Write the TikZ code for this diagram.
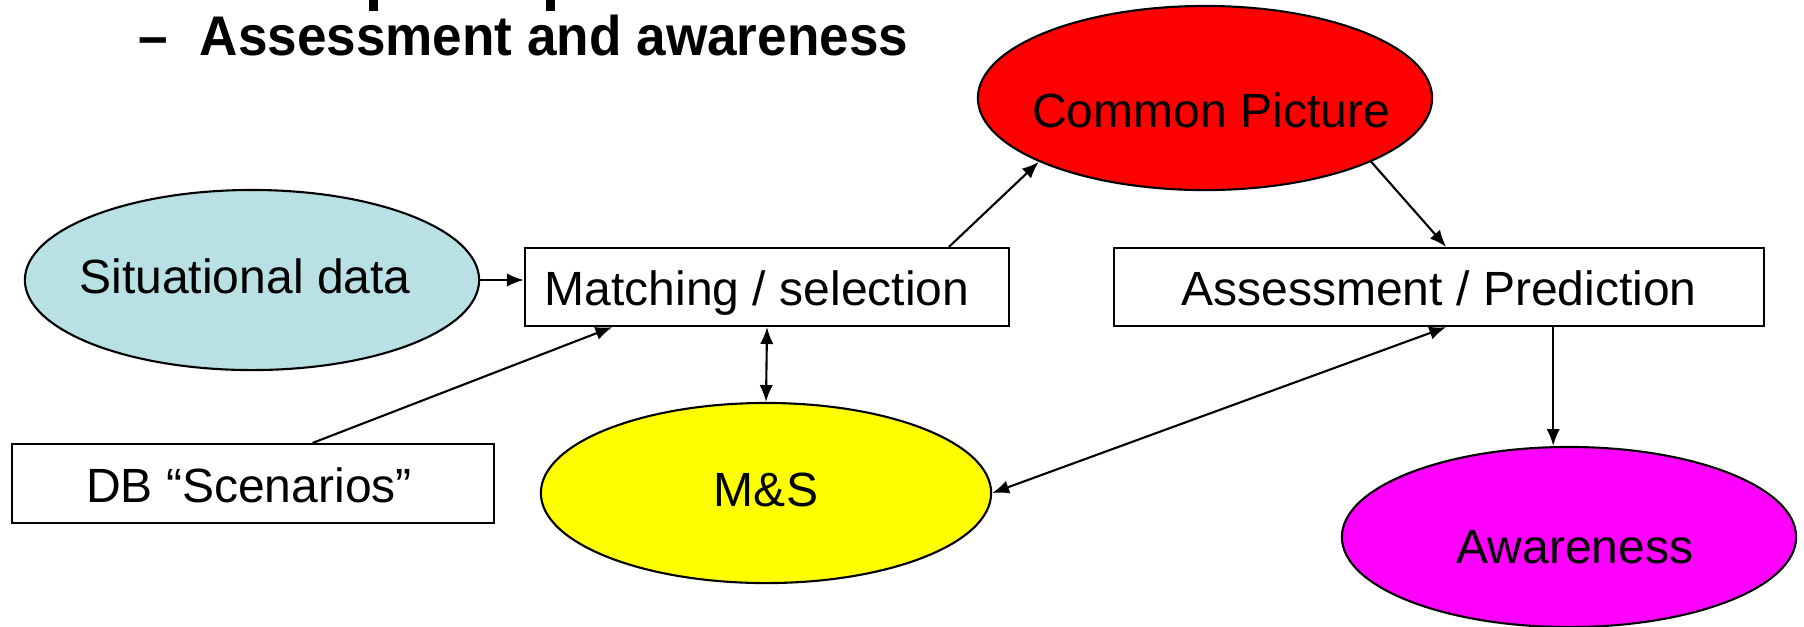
\documentclass[tikz,border=0pt]{standalone}
\usepackage{fontspec}
\setmainfont{Liberation Sans}
\newfontfamily\headfont{Liberation Sans Bold}[FakeStretch=0.95]
\usetikzlibrary{shapes.geometric,arrows.meta,calc}
\definecolor{sitblue}{RGB}{185,224,228}
\definecolor{cpred}{RGB}{255,0,0}
\definecolor{msyellow}{RGB}{255,255,0}
\definecolor{awmagenta}{RGB}{255,0,255}
\begin{document}
\begin{tikzpicture}[x=0.01cm,y=-0.01cm,
  ell/.style={ellipse,draw=black,line width=0.6pt,inner sep=0pt},
  box/.style={rectangle,draw=black,line width=0.6pt,inner sep=0pt,fill=white},
  lbl/.style={anchor=base,inner sep=0pt,font=\fontsize{13.66pt}{16pt}\selectfont},
  head/.style={anchor=base west,inner sep=0pt,font=\headfont\fontsize{15.9pt}{18pt}\selectfont},
  arr/.style={line width=0.6pt,-{Latex[length=4.8pt,width=3.8pt]}},
  darr/.style={line width=0.6pt,{Latex[length=4.8pt,width=3.8pt]}-{Latex[length=4.8pt,width=3.8pt]}}]
\useasboundingbox (0,0) rectangle (1804,626);

% fragments of the cut-off line above
\fill[black] (369,0) rectangle (378,11);
\fill[black] (546,0) rectangle (555,11);

% heading
\node[head] (dash) at (138,55) {–};
\node[head] (heading) at (199,55) {Assessment and awareness};

% shapes
\node[ell,fill=sitblue,minimum width=4.54cm,minimum height=1.80cm] (sit) at (252,280) {};
\node[ell,fill=cpred,minimum width=4.54cm,minimum height=1.84cm] (cp) at (1205,98) {};
\node[ell,fill=msyellow,minimum width=4.50cm,minimum height=1.80cm] (ms) at (766,493) {};
\node[ell,fill=awmagenta,minimum width=4.54cm,minimum height=1.80cm] (aw) at (1569,537) {};
\node[box,minimum width=4.84cm,minimum height=0.78cm] (match) at (767,287) {};
\node[box,minimum width=6.50cm,minimum height=0.78cm] (assess) at (1439,287) {};
\node[box,minimum width=4.82cm,minimum height=0.79cm] (db) at (253,483.5) {};

% labels
\node[lbl] (tsit) at (245,293) {Situational data};
\node[lbl] (tcp) at (1211,127) {Common Picture};
\node[lbl] (tms) at (766,506) {M\&S};
\node[lbl] (taw) at (1575,563) {Awareness};
\node[lbl] (tmatch) at (757,305) {Matching / selection};
\node[lbl] (tassess) at (1439,305) {Assessment / Prediction};
\node[lbl] (tdb) at (249,502) {DB “Scenarios”};

% connectors
\draw[arr] (sit.east) -- (sit.east -| match.west);
\draw[arr] ($(db.north west)!0.623!(db.north east)$) -- ($(match.south west)!0.182!(match.south east)$);
\draw[darr] (match.south) -- (ms.north);
\draw[arr] ($(match.north west)!0.874!(match.north east)$) -- (cp.201);
\draw[arr] (cp.339) -- ($(assess.north west)!0.511!(assess.north east)$);
\draw[darr] ($(assess.south west)!0.511!(assess.south east)$) -- (ms.east);
\coordinate (asout) at ($(assess.south west)!0.675!(assess.south east)$);
\draw[arr] (asout) -- (asout |- aw.north);
\end{tikzpicture}
\end{document}
